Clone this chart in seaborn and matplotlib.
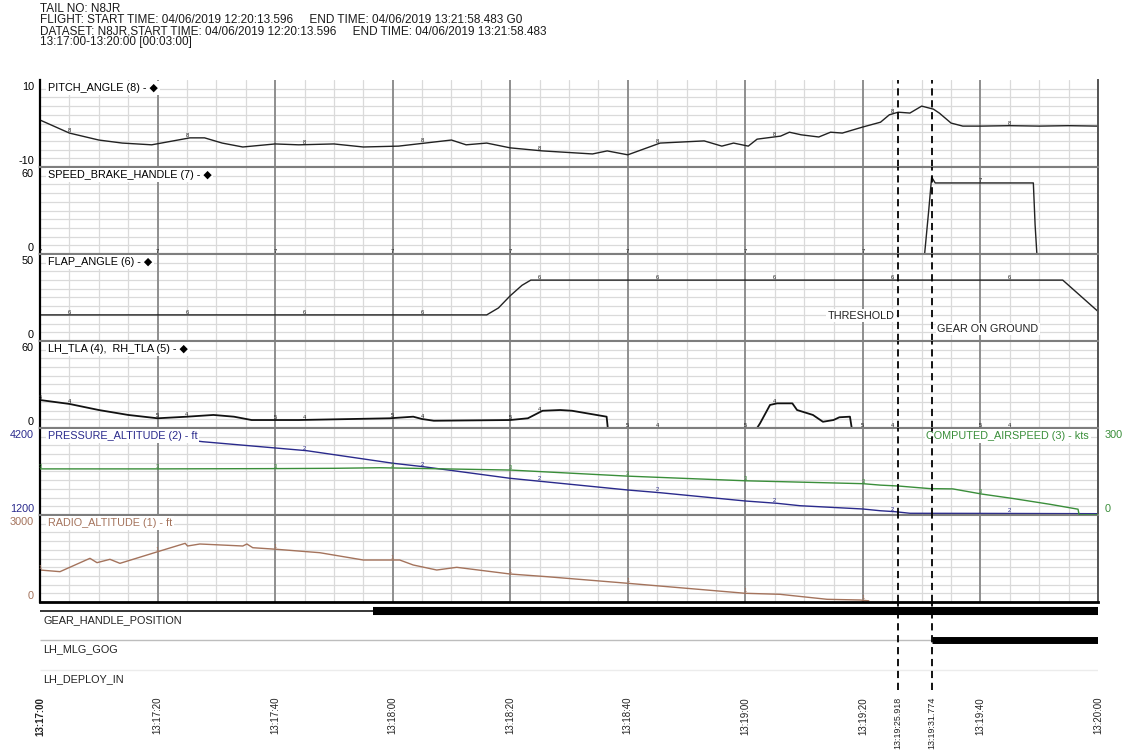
import numpy as np
import matplotlib
matplotlib.use("Agg")
import matplotlib.pyplot as plt
import seaborn as sns

sns.set_theme(style="white")
plt.rcParams['font.family'] = ['Liberation Sans', 'DejaVu Sans']

W, H = 1127, 751

header_lines = [
    "TAIL NO: N8JR",
    "FLIGHT: START TIME: 04/06/2019 12:20:13.596     END TIME: 04/06/2019 13:21:58.483 G0",
    "DATASET: N8JR,START TIME: 04/06/2019 12:20:13.596     END TIME: 04/06/2019 13:21:58.483",
    "13:17:00-13:20:00 [00:03:00]",
]

# time axis: seconds after 13:17:00
major_ticks = [0, 20, 40, 60, 80, 100, 120, 140, 160, 180]
major_labels = ["13:17:00", "13:17:20", "13:17:40", "13:18:00", "13:18:20",
                "13:18:40", "13:19:00", "13:19:20", "13:19:40", "13:20:00"]
event_times = [145.918, 151.774]
event_labels = ["13:19:25.918", "13:19:31.774"]
event_names = ["THRESHOLD", "GEAR ON GROUND"]

# PITCH_ANGLE (8)
pitch_t = [0, 5, 10, 14, 19, 25.5, 28, 31, 34.5, 40, 44, 50, 55, 61, 65.5, 70, 72.5,
           76, 80, 85.5, 94, 96.5, 100, 105.5, 108.5, 113, 116, 118, 120.5, 122, 126,
           127.5, 129.5, 132.5, 134.5, 136.5, 140, 143, 144.5, 146, 148, 150, 152,
           153, 155, 157, 160, 165, 170, 175, 180]
pitch_v = [0.8, -2.2, -3.8, -4.5, -4.9, -3.3, -3.3, -4.5, -5.4, -4.7, -4.9, -4.7,
           -5.4, -5.2, -4.5, -3.8, -4.9, -4.5, -5.6, -6.3, -7.0, -6.3, -7.2, -4.5,
           -4.3, -4.0, -5.2, -4.5, -5.2, -3.6, -2.9, -2.0, -2.6, -3.1, -2.0, -2.2,
           -0.8, 0.3, 2.0, 2.6, 2.4, 4.0, 3.3, 2.4, 0.1, -0.6, -0.6, -0.5, -0.6,
           -0.5, -0.6]

# SPEED_BRAKE_HANDLE (7)
sb_t = [0, 150.5, 151.2, 151.7, 152.3, 169.0, 169.3, 169.6, 174.4]
sb_v = [0, 0, 30, 53, 49, 49, 20, 0, 0]

# FLAP_ANGLE (6)
flap_t = [0, 76, 78, 80, 82, 83.5, 174, 176.5, 180]
flap_v = [15, 15, 19, 26, 32, 35, 35, 27.5, 17]

# LH_TLA (4), RH_TLA (5)
tla_t = [0, 5, 10, 15, 20, 25, 29.5, 33, 36, 44, 59.5, 63.5, 65, 67, 80, 83, 85.5,
         88.5, 90.5, 96.4, 96.6, 122, 122.5, 124.2, 125.4, 128, 128.8, 131.5,
         133.2, 135, 136, 137.8, 138.1, 180]
tla_v = [19.3, 16.6, 12.4, 9, 6.7, 7.8, 9, 7.8, 5.5, 5.5, 6.7, 7.8, 6.2, 5, 5.5,
         6.7, 11.9, 12.4, 11.9, 7.8, 0, 0, 3.2, 15.9, 17, 17, 12.4, 9, 4.3, 5.5,
         7.4, 7.8, 0, 0]

# PRESSURE_ALTITUDE (2) - ft
pa_t = [0, 8.5, 27.7, 45.4, 60.1, 65.2, 80, 100, 105.5, 120, 125.4, 129.3, 140,
        142.9, 145.5, 148, 160, 170, 180]
pa_v = [4200, 4200, 3727, 3417, 2983, 2866, 2465, 2062, 1969, 1683, 1603, 1520,
        1407, 1348, 1314, 1259, 1255, 1250, 1245]

# COMPUTED_AIRSPEED (3) - kts
cas_t = [0, 20, 40, 50, 57.8, 80, 100, 120, 140, 143, 146, 151.4, 155.3, 160.3,
         165.5, 171.8, 176.6, 176.8, 180]
cas_v = [159, 159, 160, 161, 163, 155, 134, 118, 108, 103, 100, 91, 90, 72, 57,
         37, 20, 0, 0]

# RADIO_ALTITUDE (1) - ft
ra_t = [0, 3.4, 8.5, 9.7, 11.9, 13.6, 20.4, 24.7, 25.1, 27.2, 34.5, 35.2, 36.2,
        40.3, 47.6, 55, 61.2, 63.5, 67.5, 70.9, 80, 86.3, 100, 120, 125.9, 133.9,
        139.5, 141]
ra_v = [1103, 1046, 1506, 1356, 1472, 1333, 1758, 2023, 1931, 2000, 1931, 2000,
        1872, 1817, 1700, 1448, 1448, 1276, 1103, 1196, 965, 872, 645, 300, 265,
        93, 69, 40]

# discrete parameters: time at which state becomes "on" (None = never)
discrete_names = ["GEAR_HANDLE_POSITION", "LH_MLG_GOG", "LH_DEPLOY_IN"]
discrete_on_time = [56.7, 151.774, None]

NAVY = "#2a2a8c"
GREEN = "#3a8e3a"
BROWN = "#a4735c"
MINOR = "#dadada"
MAJOR = "#8e8e8e"
SEP = "#7e7e7e"
FS = 7.8

fig = plt.figure(figsize=(W / 100, H / 100), dpi=100)
fig.patch.set_facecolor("white")


def rect(top_px, bot_px, left_px=40, right_px=1098):
    return [left_px / W, 1 - bot_px / H, (right_px - left_px) / W, (bot_px - top_px) / H]


for i, line in enumerate(header_lines):
    fig.text(40 / W, 1 - (9 + 11 * i) / H, line, fontsize=8.5, va="center", ha="left",
             color="#1a1a1a")


def end_labels(ax, lo_txt, hi_txt, color, right=False):
    x = 1 if right else 0
    dx = 7 if right else -6
    ha = "left" if right else "right"
    ax.annotate(hi_txt, xy=(x, 1), xycoords="axes fraction", xytext=(dx, -7),
                textcoords="offset pixels", ha=ha, va="center", fontsize=FS,
                color=color, annotation_clip=False)
    ax.annotate(lo_txt, xy=(x, 0), xycoords="axes fraction", xytext=(dx, 6),
                textcoords="offset pixels", ha=ha, va="center", fontsize=FS,
                color=color, annotation_clip=False)


def setup_panel(ax, ylo, yhi, ticklabels, color, title, title_color, first=False, last=False):
    ax.set_facecolor("white")
    ax.set_xlim(0, 180)
    ax.set_ylim(ylo, yhi)
    ax.set_xticks(major_ticks)
    ax.set_xticks(np.arange(0, 181, 5), minor=True)
    ax.set_yticks([])
    ax.set_yticks(np.linspace(ylo, yhi, 11)[1:-1], minor=True)
    ax.set_axisbelow(True)
    ax.yaxis.set_zorder(0.3)
    ax.xaxis.set_zorder(0.6)
    ax.grid(False)
    ax.xaxis.grid(True, which="minor", color=MINOR, lw=0.9, ls="-")
    ax.yaxis.grid(True, which="minor", color=MINOR, lw=0.9, ls="-")
    ax.xaxis.grid(True, which="major", color=MAJOR, lw=1.4, ls="-")
    ax.tick_params(axis="both", which="both", length=0)
    ax.tick_params(axis="x", labelbottom=False)
    end_labels(ax, ticklabels[0], ticklabels[1], color)
    ax.set_xlabel("")
    ax.set_ylabel("")
    ax.spines["left"].set_color("black")
    ax.spines["left"].set_linewidth(1.6)
    ax.spines["right"].set_color("#555555")
    ax.spines["right"].set_linewidth(1.4)
    ax.spines["top"].set_color(SEP)
    ax.spines["top"].set_linewidth(1.5)
    ax.spines["top"].set_visible(not first)
    ax.spines["bottom"].set_color("black" if last else SEP)
    ax.spines["bottom"].set_linewidth(2.0 if last else 1.5)
    ax.annotate(title, xy=(0, 1), xycoords="axes fraction", xytext=(8, -8),
                textcoords="offset pixels", ha="left", va="center", fontsize=FS,
                color=title_color, zorder=8,
                bbox=dict(facecolor="white", edgecolor="none", pad=1.2))


def draw(ax, t, v, color, lw=1.0):
    sns.lineplot(x=t, y=v, ax=ax, color=color, linewidth=lw, estimator=None,
                 sort=False, legend=False)
    ax.set_xlabel("")
    ax.set_ylabel("")


def mark(ax, t, v, times, txt, color):
    for tm in times:
        ax.text(tm, np.interp(tm, t, v), txt, fontsize=4.2, color=color,
                ha="center", va="bottom", zorder=4)


def events(ax):
    for et in event_times:
        ax.axvline(et, color="black", lw=1.3, ls=(0, (4, 2.6)), zorder=9)


tops = [80 + 87 * i for i in range(6)]
axes = [fig.add_axes(rect(tp, tp + 87)) for tp in tops]
ax_p, ax_sb, ax_f, ax_t, ax_pa, ax_ra = axes

setup_panel(ax_p, -10, 10, ["-10", "10"], "black", "PITCH_ANGLE (8) - \u25c6", "black", first=True)
draw(ax_p, pitch_t, pitch_v, "#222222")
mark(ax_p, pitch_t, pitch_v, np.arange(5, 170, 20), "8", "#222222")

setup_panel(ax_sb, 0, 60, ["0", "60"], "black", "SPEED_BRAKE_HANDLE (7) - \u25c6", "black")
draw(ax_sb, sb_t, sb_v, "#222222")
mark(ax_sb, sb_t, sb_v, np.arange(0, 170, 20), "7", "#222222")

setup_panel(ax_f, 0, 50, ["0", "50"], "black", "FLAP_ANGLE (6) - \u25c6", "black")
draw(ax_f, flap_t, flap_v, "#222222")
mark(ax_f, flap_t, flap_v, np.arange(5, 170, 20), "6", "#222222")
ax_f.annotate(event_names[0], xy=(event_times[0], 0.29), xycoords=("data", "axes fraction"),
              xytext=(-3, 0), textcoords="offset pixels", ha="right", va="center",
              fontsize=FS, color="#222222", zorder=8,
              bbox=dict(facecolor="white", edgecolor="none", pad=1.0))
ax_f.annotate(event_names[1], xy=(event_times[1], 0.138), xycoords=("data", "axes fraction"),
              xytext=(5, 0), textcoords="offset pixels", ha="left", va="center",
              fontsize=FS, color="#222222", zorder=8,
              bbox=dict(facecolor="white", edgecolor="none", pad=1.0))

setup_panel(ax_t, 0, 60, ["0", "60"], "black", "LH_TLA (4),  RH_TLA (5) - \u25c6", "black")
draw(ax_t, tla_t, tla_v, "#111111", lw=1.3)
mark(ax_t, tla_t, tla_v, np.arange(0, 170, 20), "5", "#222222")
mark(ax_t, tla_t, tla_v, np.arange(5, 170, 20), "4", "#222222")

setup_panel(ax_pa, 1200, 4200, ["1200", "4200"], NAVY, "PRESSURE_ALTITUDE (2) - ft", NAVY)
draw(ax_pa, pa_t, pa_v, NAVY)
mark(ax_pa, pa_t, pa_v, np.arange(45, 170, 20), "2", NAVY)
ax_cas = ax_pa.twinx()
ax_cas.set_xlim(0, 180)
ax_cas.set_ylim(0, 300)
draw(ax_cas, cas_t, cas_v, GREEN)
mark(ax_cas, cas_t, cas_v, np.arange(0, 170, 20), "3", GREEN)
ax_cas.set_yticks([])
ax_cas.tick_params(axis="y", length=0)
ax_cas.grid(False)
for s in ax_cas.spines.values():
    s.set_visible(False)
end_labels(ax_cas, "0", "300", GREEN, right=True)
ax_cas.annotate("COMPUTED_AIRSPEED (3) - kts", xy=(1, 1), xycoords="axes fraction",
                xytext=(-9, -8), textcoords="offset pixels", ha="right", va="center",
                fontsize=FS, color=GREEN, zorder=8,
                bbox=dict(facecolor="white", edgecolor="none", pad=1.2))

setup_panel(ax_ra, 0, 3000, ["0", "3000"], BROWN, "RADIO_ALTITUDE (1) - ft", BROWN, last=True)
draw(ax_ra, ra_t, ra_v, BROWN)
mark(ax_ra, ra_t, ra_v, np.arange(0, 150, 20), "1", BROWN)

for ax in [ax_p, ax_sb, ax_f, ax_t, ax_cas, ax_ra]:
    events(ax)

# discrete rows
ax_d = fig.add_axes(rect(602, 690))
ax_d.set_facecolor("none")
ax_d.set_xlim(0, 180)
ax_d.set_ylim(3, 0)
for s in ax_d.spines.values():
    s.set_visible(False)
ax_d.grid(False)
ax_d.set_yticks([])
low_style = [dict(color="black", lw=1.1), dict(color="#bdbdbd", lw=1.0), dict(color="#ececec", lw=1.0)]
bar_lw = [5.8, 5.0, 5.0]
for i, (name, on) in enumerate(zip(discrete_names, discrete_on_time)):
    y_line = i + 0.31
    end_low = on if on is not None else 180
    ax_d.hlines(y_line, 0, end_low, **low_style[i])
    if on is not None:
        ax_d.hlines(y_line, on, 180, color="black", lw=bar_lw[i])
    ax_d.annotate(name, xy=(0, i + 0.62), xycoords="data", xytext=(3, 0),
                  textcoords="offset pixels", ha="left", va="center", fontsize=FS,
                  color="#222222")
events(ax_d)

ticks = major_ticks[:8] + event_times + major_ticks[8:]
labels = major_labels[:8] + event_labels + major_labels[8:]
ax_d.set_xticks(ticks)
ax_d.set_xticklabels(labels, rotation=90, fontsize=7.0, color="#222222")
ax_d.tick_params(axis="x", length=0, pad=5)
xtl = ax_d.get_xticklabels()
xtl[0].set_fontweight("bold")
xtl[8].set_fontsize(6.4)
xtl[9].set_fontsize(6.4)

fig.savefig("out.png", dpi=100, facecolor="white")
